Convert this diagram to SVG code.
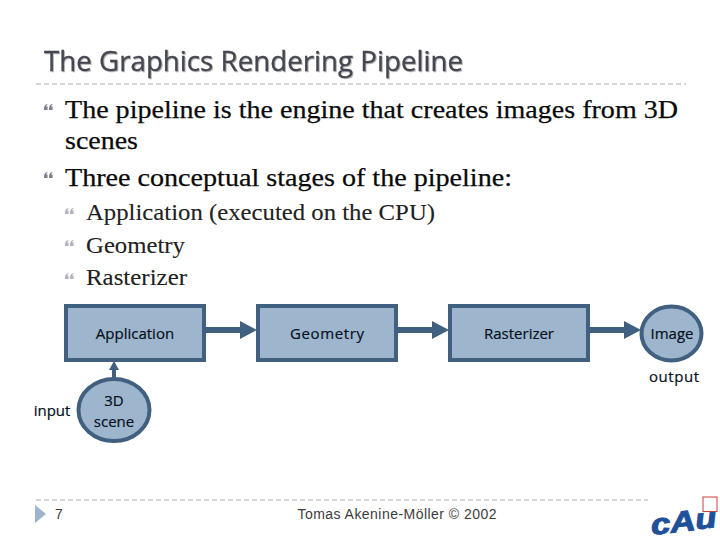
<svg xmlns="http://www.w3.org/2000/svg" width="720" height="540" viewBox="0 0 720 540">
<style>
.title{font-family:"Open Sans","Liberation Sans",sans-serif;font-size:27px;fill:#454650;stroke:#454650;stroke-width:.3px;filter:url(#shadow)}
.body{font-family:"Liberation Serif",serif;fill:#0a0a0a;stroke:#0a0a0a;stroke-width:.25px}
.b1{font-size:26px}
.b2{font-size:23px;stroke-width:.1px;fill:#222}
.lbl{font-family:"Open Sans","Liberation Sans",sans-serif;font-size:15px;fill:#05101c;stroke:#05101c;stroke-width:.2px;text-anchor:middle}
.node{fill:#9db5cd;stroke:#41607f;stroke-width:4px}
.conn{stroke:#41607f;fill:none}
.head{fill:#41607f}
.rule{stroke:#a8a8a8;stroke-width:1;stroke-dasharray:5 3;fill:none}
.bul{fill:#7f818e}
.foot{font-family:"Liberation Sans",sans-serif;font-size:14px;fill:#3c3c3c}
</style>
<defs>
<filter id="shadow" x="-5%" y="-20%" width="110%" height="150%"><feDropShadow dx="1" dy="1" stdDeviation=".7" flood-color="#000" flood-opacity=".3"/></filter>
<g id="bullet"><path d="M0 4.500C0 2 1.300.6 3.200 0L3.500.8C2.600 1.300 2.200 1.900 2.200 2.500L3.600 2.500L3.600 6L0 6ZM5 4.500C5 2 6.300.6 8.200 0L8.500.8C7.600 1.300 7.200 1.900 7.200 2.500L8.600 2.500L8.600 6L5 6Z"/></g>
</defs>

<text class="title" x="44" y="71" textLength="419" lengthAdjust="spacingAndGlyphs">The Graphics Rendering Pipeline</text>
<line class="rule" x1="36" y1="84" x2="686" y2="84"/>

<use href="#bullet" class="bul" x="44" y="104"/>
<use href="#bullet" class="bul" x="44" y="172"/>
<use href="#bullet" class="bul" x="65" y="208" opacity=".6"/>
<use href="#bullet" class="bul" x="65" y="240" opacity=".6"/>
<use href="#bullet" class="bul" x="65" y="273" opacity=".6"/>

<text class="body b1" x="65" y="118" textLength="613" lengthAdjust="spacingAndGlyphs">The pipeline is the engine that creates images from 3D</text>
<text class="body b1" x="65" y="149" textLength="73" lengthAdjust="spacingAndGlyphs">scenes</text>
<text class="body b1" x="65" y="186" textLength="447" lengthAdjust="spacingAndGlyphs">Three conceptual stages of the pipeline:</text>
<text class="body b2" x="86" y="220" textLength="349" lengthAdjust="spacingAndGlyphs">Application (executed on the CPU)</text>
<text class="body b2" x="86" y="253" textLength="99" lengthAdjust="spacingAndGlyphs">Geometry</text>
<text class="body b2" x="86" y="285" textLength="101" lengthAdjust="spacingAndGlyphs">Rasterizer</text>

<g id="connectors">
<line class="conn" x1="205" y1="330" x2="241" y2="330" stroke-width="6"/>
<path class="head" d="M240 321L257 330L240 339Z"/>
<line class="conn" x1="397" y1="330" x2="433" y2="330" stroke-width="6"/>
<path class="head" d="M432 321L449 330L432 339Z"/>
<line class="conn" x1="589" y1="330" x2="625" y2="330" stroke-width="6"/>
<path class="head" d="M624 321L641 330L624 339Z"/>
<line class="conn" x1="114" y1="378" x2="114" y2="368" stroke-width="4"/>
<path class="head" d="M109 370L114 361L119 370Z"/>
</g>

<g id="application"><rect class="node" x="66" y="306" width="138" height="54"/><text class="lbl" x="135" y="339">Application</text></g>
<g id="geometry"><rect class="node" x="258" y="306" width="138" height="54"/><text class="lbl" x="327" y="339" textLength="74">Geometry</text></g>
<g id="rasterizer"><rect class="node" x="450" y="306" width="138" height="54"/><text class="lbl" x="519" y="339">Rasterizer</text></g>
<g id="image"><ellipse class="node" cx="671.500" cy="333.500" rx="30" ry="27"/><text class="lbl" x="672" y="339">Image</text></g>
<text class="lbl" x="674" y="382" textLength="50">output</text>
<text class="lbl" x="52" y="416">input</text>
<g id="scene"><ellipse class="node" cx="114" cy="410" rx="35.500" ry="31"/><text class="lbl" x="114" y="406">3D</text><text class="lbl" x="114" y="427">scene</text></g>

<line class="rule" x1="36" y1="500" x2="648" y2="500"/>
<path fill="#9db5cd" d="M35 505L46 514L35 523Z"/>
<text class="foot" x="55" y="519">7</text>
<text class="foot" x="397" y="519" text-anchor="middle" textLength="199">Tomas Akenine-Möller © 2002</text>

<g id="logo">
<text x="652" y="535" transform="rotate(-7 652 535)" font-family="'Liberation Sans',sans-serif" font-size="29" font-weight="bold" font-style="italic" fill="#20509a" stroke="#20509a" stroke-width="1" textLength="66" lengthAdjust="spacingAndGlyphs">cAu</text>
<rect x="703" y="497" width="14" height="14.500" fill="none" stroke="#c8403c" stroke-width="1"/>
</g>
</svg>
